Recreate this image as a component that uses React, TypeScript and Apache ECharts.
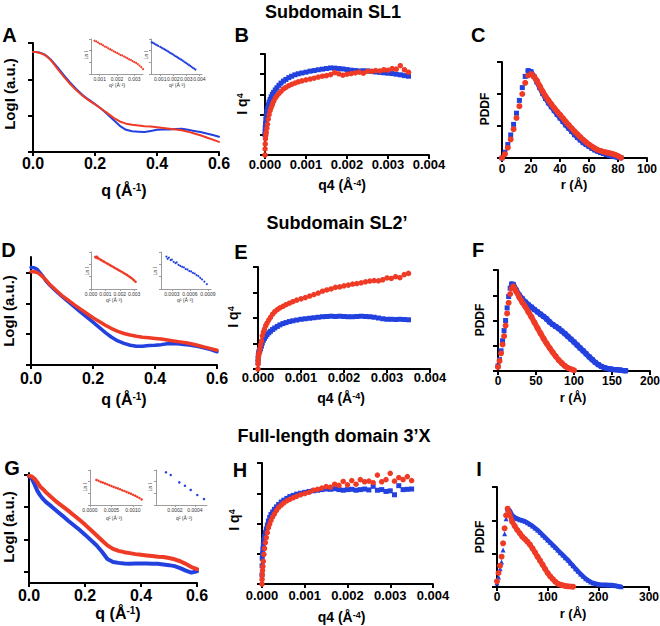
import React, { useEffect, useRef } from 'react';
import * as echarts from 'echarts';

const FONT = "'Liberation Sans', Arial, Helvetica, sans-serif";
const RED = '#ef3a25';
const BLUE = '#2241de';
const GRAY = '#9c9c9c';

// ---------- Panels A, D, G : log I vs q ----------
const Q = [0, 0.01, 0.02, 0.03, 0.04, 0.05, 0.06, 0.08, 0.1, 0.12, 0.14, 0.16, 0.18, 0.2, 0.22, 0.24, 0.26, 0.28, 0.3, 0.32, 0.34, 0.36, 0.38, 0.4, 0.42, 0.44, 0.46, 0.48, 0.5, 0.52, 0.54, 0.56, 0.58, 0.6];
const A_BLUE = [2.75, 2.75, 2.74, 2.71, 2.67, 2.6, 2.52, 2.32, 2.11, 1.91, 1.73, 1.57, 1.44, 1.32, 1.19, 1.04, 0.88, 0.72, 0.61, 0.57, 0.56, 0.55, 0.58, 0.61, 0.62, 0.62, 0.63, 0.64, 0.61, 0.58, 0.55, 0.51, 0.47, 0.42];
const A_RED = [2.75, 2.75, 2.73, 2.7, 2.66, 2.59, 2.5, 2.28, 2.07, 1.87, 1.7, 1.55, 1.42, 1.31, 1.19, 1.07, 0.94, 0.84, 0.78, 0.75, 0.73, 0.71, 0.7, 0.68, 0.66, 0.64, 0.62, 0.6, 0.56, 0.51, 0.46, 0.4, 0.34, 0.28];
const D_BLUE = [3.16, 3.15, 3.1, 2.98, 2.85, 2.7, 2.59, 2.4, 2.22, 2.05, 1.88, 1.71, 1.55, 1.39, 1.22, 1.05, 0.9, 0.78, 0.7, 0.64, 0.61, 0.61, 0.63, 0.64, 0.66, 0.69, 0.7, 0.68, 0.66, 0.63, 0.6, 0.55, 0.5, 0.43];
const D_RED = [3.02, 3.02, 3.0, 2.93, 2.84, 2.73, 2.62, 2.43, 2.25, 2.1, 1.95, 1.81, 1.67, 1.53, 1.41, 1.29, 1.18, 1.09, 1.02, 0.97, 0.93, 0.9, 0.88, 0.86, 0.84, 0.81, 0.78, 0.75, 0.72, 0.68, 0.63, 0.58, 0.53, 0.48];
const G_BLUE = [2.95, 2.88, 2.7, 2.5, 2.36, 2.25, 2.16, 2.02, 1.87, 1.73, 1.58, 1.44, 1.3, 1.15, 0.99, 0.83, 0.63, 0.4, 0.31, 0.28, 0.26, 0.25, 0.26, 0.26, 0.26, 0.25, 0.25, 0.23, 0.21, 0.18, 0.12, 0.04, -0.02, 0.02];
const G_RED = [2.96, 2.94, 2.87, 2.76, 2.63, 2.55, 2.46, 2.3, 2.15, 2.02, 1.89, 1.75, 1.61, 1.46, 1.3, 1.14, 0.98, 0.82, 0.71, 0.65, 0.61, 0.58, 0.55, 0.53, 0.51, 0.49, 0.47, 0.46, 0.43, 0.39, 0.33, 0.25, 0.15, 0.09];

// ---------- Panels B, E, H : I q^4 vs q^4 ----------
const Q4 = [0, 0.000002, 0.000006, 0.000012, 0.00002, 0.00003, 0.000045, 0.00006, 0.00008, 0.0001, 0.000125, 0.00015, 0.00018, 0.00021, 0.00025, 0.00029, 0.00034, 0.00039, 0.00045, 0.00051, 0.00058, 0.00065, 0.00073, 0.00081, 0.0009, 0.001, 0.0011, 0.0012, 0.0013, 0.0014, 0.0015, 0.0016, 0.0017, 0.0018, 0.0019, 0.002, 0.0021, 0.0022, 0.0023, 0.0024, 0.0025, 0.0026, 0.0027, 0.0028, 0.0029, 0.003, 0.0031, 0.0032, 0.0033, 0.0034, 0.0035];
const B_BLUE = [1.0, 1.15, 1.35, 1.55, 1.75, 1.95, 2.15, 2.3, 2.48, 2.62, 2.75, 2.88, 3.0, 3.1, 3.22, 3.33, 3.45, 3.56, 3.66, 3.74, 3.83, 3.9, 3.97, 4.02, 4.06, 4.1, 4.15, 4.18, 4.22, 4.25, 4.28, 4.31, 4.3, 4.28, 4.26, 4.23, 4.2, 4.18, 4.16, 4.17, 4.16, 4.14, 4.11, 4.09, 4.07, 4.05, 4.03, 4.0, 3.97, 3.93, 3.9];
const B_RED = [0, 0.3, 0.55, 0.8, 0.98, 1.12, 1.32, 1.52, 1.78, 2.0, 2.2, 2.35, 2.5, 2.66, 2.82, 2.93, 3.05, 3.15, 3.27, 3.35, 3.43, 3.5, 3.56, 3.62, 3.67, 3.72, 3.76, 3.8, 3.86, 3.9, 3.93, 3.98, 4.08, 4.02, 3.95, 4.0, 4.03, 4.06, 4.1, 4.05, 4.15, 4.14, 4.18, 4.16, 4.22, 4.2, 4.28, 4.25, 4.42, 4.22, 4.1];
const E_BLUE = [0.25, 0.4, 0.52, 0.6, 0.66, 0.7, 0.74, 0.8, 0.9, 1.02, 1.13, 1.2, 1.28, 1.35, 1.42, 1.48, 1.55, 1.61, 1.67, 1.73, 1.78, 1.82, 1.86, 1.89, 1.92, 1.95, 1.97, 1.99, 2.01, 2.03, 2.05, 2.06, 2.07, 2.06, 2.07, 2.06, 2.05, 2.05, 2.06, 2.07, 2.06, 2.05, 2.03, 2.0, 1.97, 1.95, 1.95, 1.94, 1.95, 1.94, 1.93];
const E_RED = [0, 0.2, 0.35, 0.48, 0.58, 0.66, 0.8, 0.95, 1.1, 1.3, 1.45, 1.56, 1.7, 1.8, 1.92, 2.02, 2.15, 2.25, 2.33, 2.4, 2.46, 2.52, 2.58, 2.64, 2.7, 2.75, 2.8, 2.86, 2.92, 2.98, 3.05, 3.1, 3.14, 3.2, 3.22, 3.26, 3.29, 3.33, 3.35, 3.38, 3.42, 3.45, 3.47, 3.46, 3.5, 3.57, 3.55, 3.62, 3.58, 3.7, 3.75];
const H_BLUE = [0.3, 0.6, 0.85, 1.0, 1.15, 1.3, 1.45, 1.58, 1.7, 1.82, 1.95, 2.08, 2.2, 2.3, 2.38, 2.47, 2.55, 2.63, 2.71, 2.77, 2.83, 2.89, 2.93, 2.97, 3.0, 3.03, 3.06, 3.08, 3.1, 3.12, 3.14, 3.13, 3.15, 3.12, 3.1, 3.12, 3.13, 3.1, 3.12, 3.14, 3.11, 3.23, 3.1, 3.12, 3.06, 3.08, 2.95, 3.25, 3.12, 3.13, 3.14];
const H_RED = [0, 0.15, 0.3, 0.45, 0.58, 0.75, 0.98, 1.18, 1.37, 1.53, 1.7, 1.86, 1.98, 2.1, 2.22, 2.32, 2.43, 2.53, 2.61, 2.68, 2.75, 2.8, 2.85, 2.9, 2.95, 2.99, 3.03, 3.1, 3.13, 3.17, 3.22, 3.2, 3.3, 3.26, 3.39, 3.28, 3.42, 3.3, 3.45, 3.38, 3.4, 3.35, 3.6, 3.38, 3.45, 3.66, 3.4, 3.52, 3.45, 3.55, 3.42];

// ---------- Panels C, F, I : PDDF vs r ----------
const C_R = [0, 2, 4, 6, 8, 10, 12, 14, 16, 18, 20, 22, 24, 26, 28, 30, 32, 34, 36, 38, 40, 42, 44, 46, 48, 50, 52, 54, 56, 58, 60, 62, 64, 66, 68, 70, 72, 74, 76, 78, 80, 82];
const C_BLUE = [0, 0.18, 0.42, 0.72, 1.05, 1.4, 1.8, 2.2, 2.55, 2.73, 2.7, 2.55, 2.38, 2.2, 2.02, 1.86, 1.72, 1.6, 1.48, 1.36, 1.25, 1.14, 1.03, 0.93, 0.83, 0.73, 0.64, 0.56, 0.48, 0.42, 0.36, 0.3, 0.25, 0.21, 0.17, 0.14, 0.11, 0.08, 0.06, 0.04, 0.02, 0.01];
const C_RED = [0, 0.12, 0.32, 0.58, 0.9, 1.25, 1.62, 2.0, 2.35, 2.58, 2.63, 2.55, 2.42, 2.25, 2.08, 1.93, 1.8, 1.68, 1.56, 1.45, 1.35, 1.24, 1.13, 1.03, 0.93, 0.83, 0.74, 0.65, 0.57, 0.49, 0.42, 0.36, 0.3, 0.25, 0.22, 0.19, 0.17, 0.15, 0.13, 0.1, 0.06, 0.01];
const F_R_BLUE = [0, 2, 4, 6, 8, 10, 12, 14, 16, 18, 20, 24, 28, 32, 36, 40, 44, 48, 52, 56, 60, 64, 68, 72, 76, 80, 84, 88, 92, 96, 100, 104, 108, 112, 116, 120, 124, 128, 132, 136, 140, 144, 148, 152, 156, 160, 164, 168];
const F_BLUE = [0.2, 0.45, 0.8, 1.2, 1.6, 2.0, 2.5, 2.95, 3.28, 3.44, 3.43, 3.2, 3.0, 2.86, 2.73, 2.62, 2.53, 2.43, 2.34, 2.25, 2.16, 2.06, 1.94, 1.84, 1.76, 1.68, 1.58, 1.48, 1.37, 1.26, 1.15, 1.03, 0.91, 0.8, 0.68, 0.56, 0.45, 0.34, 0.25, 0.18, 0.13, 0.1, 0.08, 0.06, 0.05, 0.04, 0.02, 0.01];
const F_R_RED = [0, 2, 4, 6, 8, 10, 12, 14, 16, 18, 20, 24, 28, 32, 36, 40, 44, 48, 52, 56, 60, 64, 68, 72, 76, 80, 84, 88, 92, 96, 100];
const F_RED = [0.16, 0.4, 0.7, 1.05, 1.38, 1.8, 2.28, 2.7, 3.05, 3.27, 3.36, 3.15, 2.92, 2.72, 2.55, 2.34, 2.14, 1.92, 1.7, 1.49, 1.28, 1.09, 0.91, 0.74, 0.58, 0.43, 0.31, 0.2, 0.12, 0.07, 0.03];
const I_R_BLUE = [0, 3, 6, 9, 12, 15, 18, 21, 25, 30, 35, 40, 45, 50, 55, 60, 65, 70, 75, 80, 85, 90, 95, 100, 105, 110, 115, 120, 125, 130, 135, 140, 145, 150, 155, 160, 165, 170, 175, 180, 185, 190, 195, 200, 205, 210, 215, 220, 225, 230, 235, 240, 245];
const I_BLUE = [0.12, 0.3, 0.55, 0.75, 1.11, 1.6, 2.05, 2.32, 2.3, 2.15, 2.09, 2.05, 2.02, 2.0, 1.97, 1.93, 1.88, 1.83, 1.77, 1.71, 1.64, 1.56, 1.49, 1.41, 1.34, 1.26, 1.19, 1.11, 1.03, 0.96, 0.88, 0.81, 0.72, 0.64, 0.55, 0.47, 0.39, 0.32, 0.25, 0.2, 0.15, 0.12, 0.1, 0.08, 0.07, 0.07, 0.07, 0.06, 0.06, 0.05, 0.04, 0.02, 0.01];
const I_R_RED = [0, 3, 6, 9, 12, 15, 18, 21, 25, 30, 35, 40, 45, 50, 55, 60, 65, 70, 75, 80, 85, 90, 95, 100, 105, 110, 115, 120, 125, 130, 135, 140, 145, 150];
const I_RED = [0.17, 0.42, 0.64, 0.91, 1.31, 1.76, 2.15, 2.35, 2.2, 1.96, 1.83, 1.71, 1.61, 1.51, 1.44, 1.36, 1.27, 1.16, 1.04, 0.91, 0.79, 0.67, 0.54, 0.42, 0.32, 0.24, 0.16, 0.1, 0.07, 0.05, 0.03, 0.02, 0.015, 0.01];
// index of the PDDF maximum (start of the dense, overlapping part of each curve)
const PEAK_C = [9, 10];
const PEAK_F = [9, 10];
const PEAK_I = [7, 7];

// ---------- Guinier insets : Ln I vs q^2 ----------
const INS_A1_X = [0.0007, 0.0008, 0.0009, 0.001, 0.0011, 0.0012, 0.0013, 0.0014, 0.0015, 0.0016, 0.0017, 0.0018, 0.0019, 0.002, 0.0021, 0.0022, 0.0023, 0.0024, 0.0025, 0.0026, 0.0027, 0.0028, 0.0029, 0.003, 0.0031, 0.0032, 0.0033, 0.0034, 0.0035];
const INS_A1_Y = [2.85, 2.8, 2.7, 2.6, 2.55, 2.45, 2.35, 2.3, 2.2, 2.12, 2.05, 1.95, 1.88, 1.8, 1.72, 1.62, 1.6, 1.5, 1.42, 1.35, 1.25, 1.2, 1.1, 1.02, 0.95, 0.85, 0.72, 0.58, 0.42];
const INS_A2_X = [0.00035, 0.00045, 0.00055, 0.00065, 0.00075, 0.00085, 0.001, 0.0011, 0.0012, 0.0013, 0.0014, 0.0015, 0.0016, 0.0017, 0.0018, 0.0019, 0.002, 0.0021, 0.0022, 0.0023, 0.0024, 0.0025, 0.0026, 0.0027, 0.0028, 0.0029, 0.003, 0.0031, 0.0032, 0.0033, 0.0034, 0.0035, 0.0036, 0.0037];
const INS_A2_Y = [2.72, 2.66, 2.6, 2.53, 2.47, 2.41, 2.32, 2.26, 2.2, 2.13, 2.06, 2.0, 1.93, 1.86, 1.79, 1.72, 1.65, 1.58, 1.51, 1.44, 1.37, 1.3, 1.23, 1.16, 1.08, 1.0, 0.93, 0.85, 0.77, 0.69, 0.61, 0.53, 0.45, 0.38];
const INS_D1_X = [0.0003, 0.00035, 0.0004, 0.00045, 0.0005, 0.0006, 0.0007, 0.0008, 0.0009, 0.001, 0.0011, 0.0012, 0.0013, 0.0014, 0.0015, 0.0016, 0.0017, 0.0018, 0.0019, 0.002, 0.0021, 0.0022, 0.0023, 0.0024, 0.0025, 0.0026, 0.0027, 0.0028, 0.0029, 0.003, 0.0031];
const INS_D1_Y = [2.6, 2.55, 2.62, 2.5, 2.52, 2.42, 2.36, 2.28, 2.22, 2.15, 2.08, 2.02, 1.95, 1.88, 1.82, 1.75, 1.68, 1.62, 1.55, 1.48, 1.42, 1.35, 1.28, 1.21, 1.14, 1.06, 0.98, 0.9, 0.8, 0.7, 0.58];
const INS_D2_X = [0.00021, 0.00023, 0.00025, 0.00028, 0.0003, 0.00033, 0.00036, 0.00038, 0.00041, 0.00044, 0.00047, 0.0005, 0.00053, 0.00056, 0.00059, 0.00062, 0.00065, 0.00068, 0.00071, 0.00074, 0.00077, 0.0008, 0.00084, 0.00088];
const INS_D2_Y = [2.62, 2.45, 2.55, 2.35, 2.38, 2.2, 2.1, 2.15, 1.95, 1.88, 1.8, 1.75, 1.62, 1.58, 1.45, 1.42, 1.3, 1.25, 1.12, 1.05, 0.9, 0.78, 0.6, 0.4];
const INS_G1_X = [0.00015, 0.0002, 0.00025, 0.0003, 0.00035, 0.0004, 0.00045, 0.0005, 0.00055, 0.0006, 0.00065, 0.0007, 0.00075, 0.0008, 0.00085, 0.0009, 0.00095, 0.001, 0.00105, 0.0011, 0.00115, 0.0012];
const INS_G1_Y = [2.15, 2.08, 1.98, 1.92, 1.85, 1.78, 1.7, 1.62, 1.55, 1.48, 1.42, 1.35, 1.26, 1.2, 1.12, 1.04, 0.97, 0.88, 0.8, 0.7, 0.6, 0.48];
const INS_G2_X = [0.00011, 0.000157, 0.000243, 0.0003, 0.000357, 0.000423, 0.00049];
const INS_G2_Y = [2.8, 2.57, 1.94, 1.65, 1.29, 0.86, 0.51];

// inset tick labels
const INS_A1_TICKS = [0.001, 0.002, 0.003];
const INS_A2_TICKS = [0.001, 0.002, 0.003, 0.004];
const INS_D1_TICKS = [0, 0.001, 0.002, 0.003];
const INS_D2_TICKS = [0.0003, 0.0006, 0.0009];
const INS_G1_TICKS = [0, 0.0005, 0.001];
const INS_G2_TICKS = [0.0002, 0.0004];
const INS_Y_TICKS = [0, 1, 2, 3];

const pairs = (xs: number[], ys: number[]) => xs.map((x, k) => [x, ys[k]]);

const GRIDS = [
  { left: 33, top: 43, width: 186, height: 109 },
  { left: 265, top: 54, width: 164, height: 101 },
  { left: 502, top: 62, width: 145, height: 96 },
  { left: 31, top: 257, width: 186, height: 108 },
  { left: 258, top: 267, width: 172, height: 102 },
  { left: 498, top: 270, width: 152, height: 101 },
  { left: 29, top: 473, width: 168, height: 110 },
  { left: 262, top: 463, width: 171, height: 121 },
  { left: 497, top: 487, width: 152, height: 100 },
  { left: 91, top: 39, width: 52, height: 35 },
  { left: 151, top: 39, width: 51, height: 35 },
  { left: 91, top: 252, width: 46, height: 37 },
  { left: 161, top: 252, width: 50, height: 37 },
  { left: 90, top: 470, width: 52, height: 35 },
  { left: 156, top: 470, width: 51, height: 35 },
];

function mainX(i: number, min: number, max: number, interval: number, fontSize: number, digits: number, margin: number) {
  return {
    type: 'value', gridIndex: i, min, max, interval,
    axisLine: { show: true, onZero: false, lineStyle: { color: '#000', width: 2 } },
    axisTick: { show: true, length: 4, lineStyle: { color: '#000', width: 2 } },
    axisLabel: {
      show: true, fontSize, fontWeight: 'bold', color: '#000', fontFamily: FONT, margin,
      showMinLabel: true, showMaxLabel: true,
      formatter: (v: number) => v.toFixed(digits),
    },
    splitLine: { show: false },
  };
}
function mainY(i: number, min: number, max: number, ticks: number[]) {
  return {
    type: 'value', gridIndex: i, min, max,
    axisLine: { show: true, onZero: false, lineStyle: { color: '#000', width: 2 } },
    axisTick: { show: true, length: 5, lineStyle: { color: '#000', width: 2 }, customValues: ticks },
    axisLabel: { show: false, customValues: ticks },
    splitLine: { show: false },
  };
}
function insetX(i: number, min: number, max: number, ticks: number[], digits: number) {
  return {
    type: 'value', gridIndex: i, min, max,
    axisLine: { show: true, onZero: false, lineStyle: { color: GRAY, width: 1 } },
    axisTick: { show: true, length: 2, lineStyle: { color: GRAY, width: 1 }, customValues: ticks },
    axisLabel: { show: true, fontSize: 5, color: '#333', fontFamily: FONT, margin: 2, customValues: ticks, formatter: (v: number) => v.toFixed(digits) },
    splitLine: { show: false },
  };
}
function insetY(i: number) {
  return {
    type: 'value', gridIndex: i, min: 0, max: 3,
    axisLine: { show: true, onZero: false, lineStyle: { color: GRAY, width: 1 } },
    axisTick: { show: true, length: 2, lineStyle: { color: GRAY, width: 1 }, customValues: INS_Y_TICKS },
    axisLabel: { show: false, customValues: INS_Y_TICKS },
    splitLine: { show: false },
  };
}

function line(i: number, xs: number[], ys: number[], color: string, width: number) {
  return {
    type: 'line', xAxisIndex: i, yAxisIndex: i, data: pairs(xs, ys), showSymbol: false, symbol: 'none',
    lineStyle: { color, width, cap: 'round', join: 'round' }, itemStyle: { color }, silent: true, emphasis: { disabled: true }, clip: false,
  };
}
function scatter(i: number, xs: number[], ys: number[], color: string, symbol: string, size: number) {
  return {
    type: 'scatter', xAxisIndex: i, yAxisIndex: i, data: pairs(xs, ys), symbol, symbolSize: size,
    itemStyle: { color, opacity: 1 }, silent: true, emphasis: { disabled: true }, clip: false,
  };
}
// PDDF curve: separate dots on the steep rise, a dense band after the maximum
function pddf(i: number, xs: number[], ys: number[], peak: number, color: string, symbol: string, size: number, band: number) {
  return [
    line(i, xs.slice(peak), ys.slice(peak), color, band),
    scatter(i, xs, ys, color, symbol, size),
  ];
}

const RICH_BASE = { fontFamily: FONT, fontWeight: 'bold', fill: '#000' };
function label(x: number, y: number, text: string, fontSize: number, rot = 0, supSize = 0, color = '#000', bold = true) {
  const style: any = {
    text, fontSize, fontWeight: bold ? 'bold' : 'normal', fontFamily: FONT, fill: color,
    align: 'center', verticalAlign: 'middle',
  };
  if (supSize) {
    style.rich = {
      m: { ...RICH_BASE, fontSize },
      s: { ...RICH_BASE, fontSize: supSize, verticalAlign: 'top' },
    };
  }
  return { type: 'text', x, y, rotation: rot, style, z: 100, silent: true };
}
const R90 = Math.PI / 2;

function buildOption() {
  const graphics = [
    label(333, 12, 'Subdomain SL1', 18),
    label(337, 223, 'Subdomain SL2\u2019', 18),
    label(334, 436, 'Full-length domain 3\u2019X', 18),
    label(9.5, 35, 'A', 20), label(241.7, 35, 'B', 20), label(478.3, 35, 'C', 20),
    label(8.5, 250, 'D', 20), label(241, 252, 'E', 20), label(478, 250, 'F', 20),
    label(12, 468, 'G', 20), label(240, 470, 'H', 20), label(479, 469, 'I', 20),
    // axis names
    label(9.5, 94, 'LogI (a.u.)', 15, R90),
    label(124, 190, '{m|q (Å}{s|-1}{m|)}', 16, 0, 10),
    label(242, 104, '{m|I q}{s|4}', 14, R90, 9),
    label(342, 185, '{m|q4 (Å}{s|-4}{m|)}', 14, 0, 9),
    label(485, 109, 'PDDF', 12, R90),
    label(574, 184, 'r (Å)', 13),
    label(8.5, 311, 'LogI (a.u.)', 15, R90),
    label(124, 399, '{m|q (Å}{s|-1}{m|)}', 16, 0, 10),
    label(233, 317, '{m|I q}{s|4}', 14, R90, 9),
    label(341, 398, '{m|q4 (Å}{s|-4}{m|)}', 14, 0, 9),
    label(480, 320, 'PDDF', 12, R90),
    label(573, 397, 'r (Å)', 13),
    label(8.5, 527, 'LogI (a.u.)', 15, R90),
    label(118, 613, '{m|q (Å}{s|-1}{m|)}', 16, 0, 10),
    label(234, 520, '{m|I q}{s|4}', 14, R90, 9),
    label(341.5, 617, '{m|q4 (Å}{s|-4}{m|)}', 14, 0, 9),
    label(480, 537, 'PDDF', 12, R90),
    label(573, 613, 'r (Å)', 13),
    // inset labels
    label(86, 55, 'Ln I', 5, R90, 0, '#333', false),
    label(117, 85, 'q² (Å⁻²)', 5, 0, 0, '#333', false),
    label(146, 55, 'Ln I', 5, R90, 0, '#333', false),
    label(177, 85, 'q² (Å⁻²)', 5, 0, 0, '#333', false),
    label(86.5, 271, 'Ln I', 5, R90, 0, '#333', false),
    label(114, 300, 'q² (Å⁻²)', 5, 0, 0, '#333', false),
    label(155, 271, 'Ln I', 5, R90, 0, '#333', false),
    label(185, 300, 'q² (Å⁻²)', 5, 0, 0, '#333', false),
    label(85, 487, 'Ln I', 5, R90, 0, '#333', false),
    label(114, 518, 'q² (Å⁻²)', 5, 0, 0, '#333', false),
    label(150, 487, 'Ln I', 5, R90, 0, '#333', false),
    label(184, 518, 'q² (Å⁻²)', 5, 0, 0, '#333', false),
  ];

  return {
    animation: false,
    backgroundColor: '#fff',
    grid: GRIDS.map((g) => ({ ...g, show: false, containLabel: false, outerBoundsMode: 'none' })),
    xAxis: [
      mainX(0, 0, 0.6, 0.2, 16, 1, 3),
      mainX(1, 0, 0.004, 0.001, 13, 3, 3),
      mainX(2, 0, 100, 20, 12, 0, 5),
      mainX(3, 0, 0.6, 0.2, 16, 1, 5),
      mainX(4, 0, 0.004, 0.001, 13, 3, 2),
      mainX(5, 0, 200, 50, 12, 0, 4),
      mainX(6, 0, 0.6, 0.2, 16, 1, 4),
      mainX(7, 0, 0.004, 0.001, 13, 3, 5),
      mainX(8, 0, 300, 100, 12, 0, 4),
      insetX(9, 0.0005, 0.0035, INS_A1_TICKS, 3),
      insetX(10, 0.0003, 0.0042, INS_A2_TICKS, 3),
      insetX(11, 0, 0.0032, INS_D1_TICKS, 3),
      insetX(12, 0.00012, 0.00095, INS_D2_TICKS, 4),
      insetX(13, 0, 0.00121, INS_G1_TICKS, 4),
      insetX(14, 0.00001, 0.00052, INS_G2_TICKS, 4),
    ],
    yAxis: [
      mainY(0, 0, 3, [0, 1, 2, 3]),
      mainY(1, 0, 5, [0, 1, 2, 3, 4, 5]),
      mainY(2, 0, 3, [0, 1, 2, 3]),
      mainY(3, 0, 3.5, [0, 1, 2, 3]),
      mainY(4, 0, 4, [0, 1, 2, 3, 4]),
      mainY(5, 0, 4, [0, 1, 2, 3, 4]),
      mainY(6, -0.34, 3.05, [0, 1, 2, 3]),
      mainY(7, 0, 4, [0, 1, 2, 3, 4]),
      mainY(8, 0, 3, [0, 1, 2, 3]),
      insetY(9), insetY(10), insetY(11), insetY(12), insetY(13), insetY(14),
    ],
    series: [
      line(0, Q, A_BLUE, BLUE, 2), line(0, Q, A_RED, RED, 2),
      scatter(1, Q4, B_BLUE, BLUE, 'rect', 5), scatter(1, Q4, B_RED, RED, 'circle', 5.5),
      ...pddf(2, C_R, C_BLUE, PEAK_C[0], BLUE, 'rect', 5, 5),
      ...pddf(2, C_R, C_RED, PEAK_C[1], RED, 'circle', 6, 5.5),
      line(3, Q, D_BLUE, BLUE, 3.5), line(3, Q, D_RED, RED, 3.5),
      scatter(4, Q4, E_BLUE, BLUE, 'rect', 5), scatter(4, Q4, E_RED, RED, 'circle', 5.5),
      ...pddf(5, F_R_BLUE, F_BLUE, PEAK_F[0], BLUE, 'rect', 5, 5.5),
      ...pddf(5, F_R_RED, F_RED, PEAK_F[1], RED, 'circle', 6, 5.5),
      line(6, Q, G_BLUE, BLUE, 4), line(6, Q, G_RED, RED, 4),
      scatter(7, Q4, H_BLUE, BLUE, 'rect', 5), scatter(7, Q4, H_RED, RED, 'circle', 5.5),
      ...pddf(8, I_R_BLUE, I_BLUE, PEAK_I[0], BLUE, 'triangle', 5, 4.5),
      ...pddf(8, I_R_RED, I_RED, PEAK_I[1], RED, 'circle', 6, 5),
      scatter(9, INS_A1_X, INS_A1_Y, RED, 'circle', 2),
      scatter(10, INS_A2_X, INS_A2_Y, BLUE, 'circle', 2),
      scatter(11, INS_D1_X, INS_D1_Y, RED, 'circle', 2.5),
      scatter(12, INS_D2_X, INS_D2_Y, BLUE, 'circle', 2),
      scatter(13, INS_G1_X, INS_G1_Y, RED, 'circle', 2.5),
      scatter(14, INS_G2_X, INS_G2_Y, BLUE, 'circle', 2.5),
    ],
    graphic: graphics,
  };
}

export default function App() {
  const ref = useRef<HTMLDivElement>(null);
  useEffect(() => {
    const chart = echarts.init(ref.current as HTMLDivElement, undefined, { renderer: 'svg' });
    chart.setOption(buildOption() as any);
    return () => chart.dispose();
  }, []);
  return (
    <div
      ref={ref}
      style={{ position: 'absolute', left: 0, top: 0, width: 660, height: 626, background: '#fff' }}
    />
  );
}
